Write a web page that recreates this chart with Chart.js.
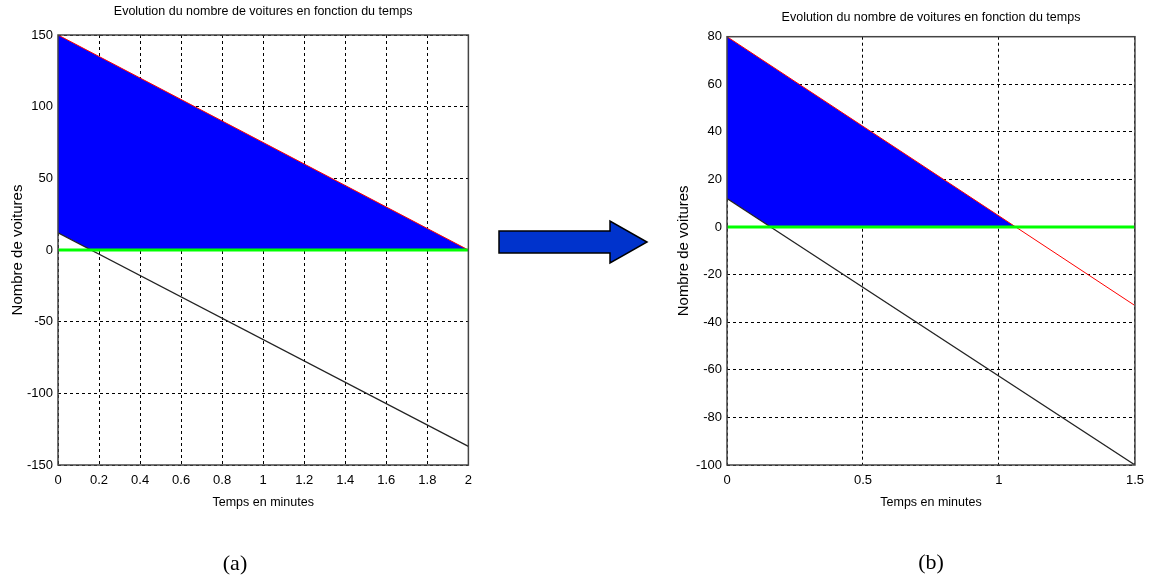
<!DOCTYPE html>
<html>
<head>
<meta charset="utf-8">
<script src="https://cdn.jsdelivr.net/npm/chart.js@4"></script>
<style>
  body { margin: 0; background: #fff; }
  #page { position: relative; width: 1152px; height: 578px; background: #fff; overflow: hidden; }
  .box { position: absolute; top: 0; height: 520px; }
  #boxA { left: 0; width: 480px; }
  #boxB { left: 640px; width: 512px; }
  .cap { position: absolute; font-family: 'Liberation Serif', 'Times New Roman', serif; font-size: 22px; color: #000; transform: translate(-50%, -50%); }
  #arrow { position: absolute; left: 0; top: 0; }
</style>
</head>
<body>
<div id="page">
  <div class="box" id="boxA"><canvas id="chartA"></canvas></div>
  <div class="box" id="boxB"><canvas id="chartB"></canvas></div>
  <svg id="arrow" width="1152" height="578">
    <polygon points="499,231 610,231 610,221 647,242 610,263 610,253 499,253" fill="#0033cc" stroke="#000" stroke-width="1.5"/>
  </svg>
  <div class="cap" style="left:235px; top:563px;">(a)</div>
  <div class="cap" style="left:931px; top:562px;">(b)</div>
</div>
<script>
// chart (a)
const tempsRougeA = [0, 2];
const rougeA = [150, 0];
const tempsNoirA = [0, 2];
const noirA = [12, -137];
const tempsBaseA = [0, 0.16, 2];
const baseA = [12, 0, 0];
const xTicksA = [0, 0.2, 0.4, 0.6, 0.8, 1, 1.2, 1.4, 1.6, 1.8, 2];
const yTicksA = [-150, -100, -50, 0, 50, 100, 150];

// chart (b)
const tempsRougeB = [0, 1.062, 1.5];
const rougeB = [80, 0, -33];
const tempsNoirB = [0, 1.5];
const noirB = [12, -100];
const tempsBaseB = [0, 0.16, 1.5];
const baseB = [12, 0, 0];
const xTicksB = [0, 0.5, 1, 1.5];
const yTicksB = [-100, -80, -60, -40, -20, 0, 20, 40, 60, 80];

const titre = 'Evolution du nombre de voitures en fonction du temps';
const narrow = "'Liberation Sans Narrow', 'Liberation Sans', Arial, sans-serif";

Chart.defaults.font.family = narrow;
Chart.defaults.color = '#000';

const pts = (xs, ys) => xs.map((x, i) => ({x: x, y: ys[i]}));

// box around the plot area + title centred over the axes, like matlab
const boxPlugin = {
  id: 'box',
  afterLayout(chart) {
    const t = chart.titleBlock, a = chart.chartArea;
    if (t) { t.left = a.left; t.right = a.right; t.width = a.right - a.left; }
  },
  afterDraw(chart) {
    const a = chart.chartArea, c = chart.ctx;
    c.save();
    c.strokeStyle = '#444';
    c.lineWidth = 1.5;
    c.strokeRect(a.left, a.top, a.right - a.left, a.bottom - a.top);
    c.restore();
  }
};

function makeChart(id, o) {
  const xMin = o.xTicks[0], xMax = o.xTicks[o.xTicks.length - 1];
  const yMin = o.yTicks[0], yMax = o.yTicks[o.yTicks.length - 1];
  return new Chart(document.getElementById(id), {
    type: 'scatter',
    data: {
      datasets: [
        { data: pts([xMin, xMax], [0, 0]), showLine: true, borderColor: '#00ff00', borderWidth: 3, pointRadius: 0 },
        { data: o.rouge, showLine: true, borderColor: '#ff0000', borderWidth: 1, pointRadius: 0,
          fill: { target: 3, above: '#0000ff', below: 'rgba(0,0,0,0)' } },
        { data: o.noir, showLine: true, borderColor: '#222', borderWidth: 1.2, pointRadius: 0 },
        { data: o.base, showLine: true, borderColor: 'rgba(0,0,0,0)', borderWidth: 0, pointRadius: 0 }
      ]
    },
    options: {
      responsive: true,
      maintainAspectRatio: false,
      animation: false,
      layout: { padding: { left: 0, right: o.padRight, top: 0, bottom: 0 } },
      plugins: {
        legend: { display: false },
        tooltip: { enabled: false },
        filler: { drawTime: 'beforeDatasetsDraw' },
        title: {
          display: true, text: titre, color: '#000',
          font: { size: 12.5, weight: 'normal' },
          padding: { top: o.titleTop, bottom: o.titleBottom }
        }
      },
      scales: {
        x: {
          type: 'linear', min: xMin, max: xMax,
          afterBuildTicks: s => { s.ticks = o.xTicks.map(v => ({value: v})); },
          afterFit: s => { s.height = 55; },
          ticks: { padding: 8, font: { size: 13 }, callback: v => String(v), maxRotation: 0 },
          grid: { color: '#000', lineWidth: 1, drawTicks: false },
          border: { display: false, dash: [3, 3] },
          title: { display: true, text: 'Temps en minutes', font: { size: 12.5 }, padding: { top: 0, bottom: 10 } }
        },
        y: {
          type: 'linear', min: yMin, max: yMax,
          afterBuildTicks: s => { s.ticks = o.yTicks.map(v => ({value: v})); },
          afterFit: s => { s.width = o.yWidth; },
          ticks: { padding: 5, font: { size: 13 }, callback: v => String(v) },
          grid: { color: '#000', lineWidth: 1, drawTicks: false },
          border: { display: false, dash: [3, 3] },
          title: { display: true, text: 'Nombre de voitures',
            font: { size: 15, family: "'Liberation Sans', Arial, sans-serif" },
            padding: { top: o.yTitlePad, bottom: 0 } }
        }
      }
    },
    plugins: [boxPlugin]
  });
}

makeChart('chartA', {
  rouge: pts(tempsRougeA, rougeA),
  noir: pts(tempsNoirA, noirA),
  base: pts(tempsBaseA, baseA),
  xTicks: xTicksA, yTicks: yTicksA,
  yWidth: 58, padRight: 11, titleTop: 4.5, titleBottom: 15.5, yTitlePad: 8.6
});

makeChart('chartB', {
  rouge: pts(tempsRougeB, rougeB),
  noir: pts(tempsNoirB, noirB),
  base: pts(tempsBaseB, baseB),
  xTicks: xTicksB, yTicks: yTicksB,
  yWidth: 87, padRight: 15, titleTop: 10.5, titleBottom: 11.2, yTitlePad: 34.6
});
</script>
</body>
</html>
